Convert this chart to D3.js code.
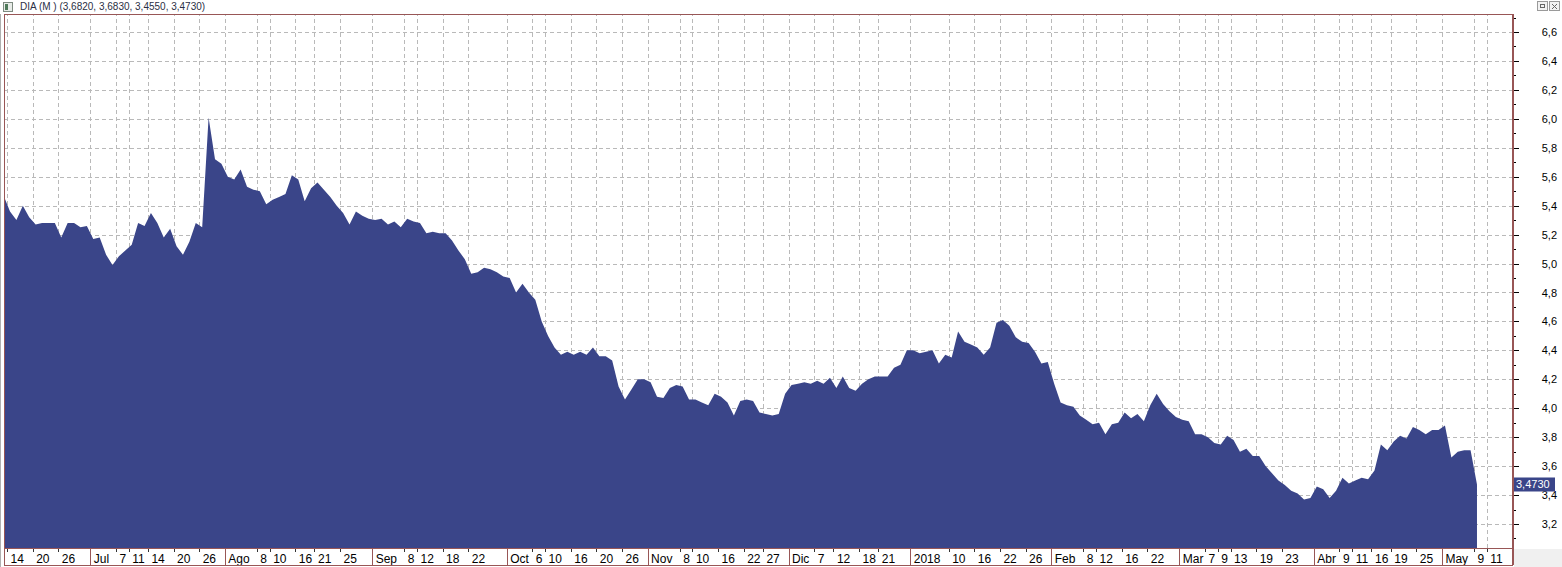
<!DOCTYPE html>
<html>
<head>
<meta charset="utf-8">
<script src="https://cdn.jsdelivr.net/npm/d3@7"></script>
<style>
  body { margin: 0; background: #fff; }
  svg { display: block; }
  text { font-family: "Liberation Sans", Arial, sans-serif; }
</style>
</head>
<body>
<svg width="1562" height="567"></svg>
<script>
// trading calendar (Madrid), last day shown in the window is May 17
const firstDay = new Date(2017, 5, 13);
const lastDay = new Date(2018, 4, 17);
const holidays = ['2017-12-25', '2017-12-26', '2018-01-01', '2018-03-30', '2018-04-02', '2018-05-01'];

// daily close, 13 Jun 2017 -> 9 May 2018
const closes = [
  5.47, 5.36, 5.30, 5.40, 5.32, 5.27, 5.28, 5.28, 5.28, 5.18, 5.28, 5.28, 5.25, 5.26,
  5.17, 5.18, 5.06, 4.99, 5.05, 5.09, 5.13, 5.28, 5.26, 5.35, 5.28, 5.18, 5.24, 5.12, 5.06, 5.15, 5.28, 5.25, 6.01, 5.72, 5.69,
  5.60, 5.58, 5.65, 5.53, 5.51, 5.50, 5.41, 5.44, 5.46, 5.48, 5.61, 5.58, 5.43, 5.52, 5.56, 5.51, 5.46, 5.40, 5.35, 5.27, 5.36, 5.33, 5.31,
  5.30, 5.31, 5.27, 5.29, 5.25, 5.31, 5.29, 5.28, 5.21, 5.22, 5.21, 5.21, 5.16, 5.09, 5.03, 4.93, 4.94, 4.97, 4.96, 4.94, 4.91,
  4.90, 4.80, 4.86, 4.80, 4.75, 4.60, 4.50, 4.42, 4.37, 4.39, 4.37, 4.39, 4.37, 4.42, 4.36, 4.36, 4.33, 4.15, 4.06, 4.13, 4.20, 4.20,
  4.18, 4.08, 4.07, 4.14, 4.16, 4.15, 4.06, 4.06, 4.04, 4.02, 4.10, 4.08, 4.04, 3.95, 4.05, 4.06, 4.05, 3.97, 3.96, 3.95, 3.96, 4.10,
  4.16, 4.17, 4.18, 4.17, 4.19, 4.17, 4.21, 4.14, 4.22, 4.14, 4.12, 4.17, 4.20, 4.22, 4.22, 4.22, 4.28, 4.30, 4.40,
  4.40, 4.38, 4.39, 4.40, 4.31, 4.37, 4.35, 4.53, 4.46, 4.44, 4.42, 4.37, 4.42, 4.59, 4.61, 4.57, 4.49, 4.46, 4.45, 4.39, 4.31, 4.32,
  4.17, 4.04, 4.02, 4.01, 3.95, 3.92, 3.89, 3.90, 3.82, 3.89, 3.90, 3.97, 3.93, 3.96, 3.91, 4.02, 4.10, 4.03, 3.98, 3.94,
  3.92, 3.91, 3.82, 3.82, 3.80, 3.76, 3.75, 3.81, 3.78, 3.70, 3.72, 3.67, 3.67, 3.60, 3.55, 3.50, 3.47, 3.43, 3.41, 3.37, 3.38,
  3.46, 3.44, 3.38, 3.43, 3.52, 3.48, 3.50, 3.52, 3.51, 3.57, 3.75, 3.71, 3.77, 3.81, 3.79, 3.87, 3.85, 3.82, 3.85, 3.85,
  3.88, 3.66, 3.70, 3.71, 3.71, 3.473
];

const tickDays = [
  '2017-06-14', '2017-06-20', '2017-06-26',
  '2017-07-03', '2017-07-07', '2017-07-11', '2017-07-14', '2017-07-20', '2017-07-26',
  '2017-08-01', '2017-08-08', '2017-08-10', '2017-08-16', '2017-08-21', '2017-08-25',
  '2017-09-01', '2017-09-08', '2017-09-12', '2017-09-18', '2017-09-22',
  '2017-10-02', '2017-10-06', '2017-10-10', '2017-10-16', '2017-10-20', '2017-10-26',
  '2017-11-01', '2017-11-08', '2017-11-10', '2017-11-16', '2017-11-22', '2017-11-27',
  '2017-12-01', '2017-12-07', '2017-12-12', '2017-12-18', '2017-12-21',
  '2018-01-02', '2018-01-10', '2018-01-16', '2018-01-22', '2018-01-26',
  '2018-02-01', '2018-02-08', '2018-02-12', '2018-02-16', '2018-02-22',
  '2018-03-01', '2018-03-07', '2018-03-09', '2018-03-13', '2018-03-19', '2018-03-23',
  '2018-04-03', '2018-04-09', '2018-04-11', '2018-04-16', '2018-04-19', '2018-04-25',
  '2018-05-02', '2018-05-09', '2018-05-11'
];
const tickLabels = [
  '14', '20', '26',
  'Jul', '7', '11', '14', '20', '26',
  'Ago', '8', '10', '16', '21', '25',
  'Sep', '8', '12', '18', '22',
  'Oct', '6', '10', '16', '20', '26',
  'Nov', '8', '10', '16', '22', '27',
  'Dic', '7', '12', '18', '21',
  '2018', '10', '16', '22', '26',
  'Feb', '8', '12', '16', '22',
  'Mar', '7', '9', '13', '19', '23',
  'Abr', '9', '11', '16', '19', '25',
  'May', '9', '11'
];
const monthLabels = ['Jul', 'Ago', 'Sep', 'Oct', 'Nov', 'Dic', '2018', 'Feb', 'Mar', 'Abr', 'May'];

const yLabelTicks = [3.2, 3.4, 3.6, 3.8, 4.0, 4.2, 4.4, 4.6, 4.8, 5.0, 5.2, 5.4, 5.6, 5.8, 6.0, 6.2, 6.4, 6.6];
const yMinorTicks = [3.1, 3.3, 3.5, 3.7, 3.9, 4.1, 4.3, 4.5, 4.7, 4.9, 5.1, 5.3, 5.5, 5.7, 5.9, 6.1, 6.3, 6.5, 6.7];

const titleText = 'DIA (M ) (3,6820, 3,6830, 3,4550, 3,4730)';

const fillColor = '#3a4589';
const frameColor = '#985656';

const plotL = 4, plotR = 1513, plotT = 14, plotB = 548, stripB = 565;

const fmtDay = d3.timeFormat('%Y-%m-%d');
const days = d3.timeDay.range(firstDay, d3.timeDay.offset(lastDay, 1))
  .filter(d => d.getDay() !== 0 && d.getDay() !== 6)
  .map(fmtDay)
  .filter(s => !holidays.includes(s));

const data = closes.map((v, i) => ({ day: days[i], v: v }));

const step = 6.406;
const x = d3.scalePoint()
  .domain(days)
  .range([3.6, 3.6 + step * (days.length - 1)]);
// tick marks sit a little to the left of the bar's point
const xTick = x.copy().range(x.range().map(r => r - 3));

const y = d3.scaleLinear()
  .domain([3.2, 6.6])
  .range([524, 32]);

const svg = d3.select('svg');

// title bar
svg.append('rect').attr('x', 0).attr('y', 0).attr('width', 1562).attr('height', plotT).attr('fill', '#fff');
svg.append('rect').attr('x', 3.5).attr('y', 2.5).attr('width', 9).attr('height', 9)
  .attr('fill', '#e8ece8').attr('stroke', '#7d8a80');
svg.append('rect').attr('x', 5).attr('y', 4).attr('width', 3).attr('height', 6).attr('fill', '#4f7a5a');
svg.append('text').attr('x', 20).attr('y', 10).attr('font-size', 10).attr('fill', '#2b2f45').text(titleText);

// little window buttons at the top right
[1537, 1549].forEach((bx, i) => {
  svg.append('rect').attr('x', bx + 0.5).attr('y', 1.5).attr('width', 10).attr('height', 9)
    .attr('fill', '#f2f2f2').attr('stroke', '#9a9a9a');
  if (i === 0) {
    svg.append('rect').attr('x', bx + 3.5).attr('y', 4.5).attr('width', 4).attr('height', 3)
      .attr('fill', 'none').attr('stroke', '#666');
  } else {
    svg.append('path').attr('d', `M${bx + 3},${4} L${bx + 8},${9} M${bx + 8},${4} L${bx + 3},${9}`)
      .attr('stroke', '#666');
  }
});

// bottom right grey corner
svg.append('rect').attr('x', plotR + 1).attr('y', plotB + 1).attr('width', 1562 - plotR).attr('height', 567 - plotB)
  .attr('fill', '#f0f0f0');

svg.append('clipPath').attr('id', 'plotclip')
  .append('rect').attr('x', plotL).attr('y', plotT).attr('width', plotR - plotL).attr('height', plotB - plotT);

const chart = svg.append('g');

// horizontal grid
chart.append('g')
  .attr('class', 'grid')
  .attr('transform', `translate(${plotR}, 0)`)
  .call(d3.axisRight(y)
    .tickValues(yLabelTicks)
    .tickSize(-(plotR - plotL))
    .tickFormat(''));

// vertical grid
chart.append('g')
  .attr('class', 'grid')
  .attr('transform', `translate(0, ${plotB})`)
  .call(d3.axisBottom(xTick)
    .tickValues(tickDays)
    .tickSize(-(plotB - plotT))
    .tickFormat(''));

chart.selectAll('.grid .domain').remove();
chart.selectAll('.grid line')
  .attr('stroke', '#b9b9b9')
  .attr('stroke-dasharray', '4,3')
  .attr('shape-rendering', 'crispEdges');

// price area
const area = d3.area()
  .x(d => x(d.day))
  .y0(plotB)
  .y1(d => y(d.v));

chart.append('path')
  .datum(data)
  .attr('clip-path', 'url(#plotclip)')
  .attr('fill', fillColor)
  .attr('d', area);

// date axis strip
const xAxisG = svg.append('g').attr('transform', `translate(0, ${plotB})`);
xAxisG.append('rect').attr('x', plotL).attr('y', 0.5).attr('width', plotR - plotL).attr('height', stripB - plotB)
  .attr('fill', '#fff');
xAxisG.call(d3.axisBottom(xTick)
  .tickValues(tickDays)
  .tickSize(4)
  .tickFormat((d, i) => tickLabels[i]));
xAxisG.select('.domain').remove();
xAxisG.selectAll('.tick line')
  .attr('stroke', '#333')
  .attr('y1', 1)
  .attr('y2', 4)
  .attr('shape-rendering', 'crispEdges');
xAxisG.selectAll('.tick text')
  .attr('text-anchor', 'start')
  .attr('x', 3)
  .attr('y', 15)
  .attr('dy', null)
  .attr('font-size', 12)
  .attr('font-family', '"Liberation Sans", Arial, sans-serif')
  .attr('fill', '#000');
xAxisG.selectAll('.tick')
  .filter((d, i) => monthLabels.includes(tickLabels[i]))
  .select('line')
  .attr('stroke', frameColor)
  .attr('y1', 0)
  .attr('y2', stripB - plotB);

// price axis on the right
const yAxisG = svg.append('g').attr('transform', `translate(${plotR}, 0)`);
yAxisG.call(d3.axisRight(y)
  .tickValues(yLabelTicks)
  .tickSize(6)
  .tickFormat(d => d3.format('.1f')(d).replace('.', ',')));
yAxisG.select('.domain').remove();
yAxisG.selectAll('.tick line').attr('stroke', '#000').attr('shape-rendering', 'crispEdges');
yAxisG.selectAll('.tick text')
  .attr('text-anchor', 'end')
  .attr('x', 44)
  .attr('font-size', 11)
  .attr('font-family', '"Liberation Sans", Arial, sans-serif')
  .attr('fill', '#000');

const yMinorG = svg.append('g').attr('transform', `translate(${plotR}, 0)`);
yMinorG.call(d3.axisRight(y).tickValues(yMinorTicks).tickSize(3).tickFormat(''));
yMinorG.select('.domain').remove();
yMinorG.selectAll('.tick line').attr('stroke', '#000').attr('shape-rendering', 'crispEdges');

// frame lines
const frame = svg.append('g').attr('stroke', frameColor).attr('shape-rendering', 'crispEdges');
frame.append('line').attr('x1', plotL).attr('x2', plotR).attr('y1', plotT + 0.5).attr('y2', plotT + 0.5);
frame.append('line').attr('x1', plotL + 0.5).attr('x2', plotL + 0.5).attr('y1', plotT).attr('y2', stripB);
frame.append('line').attr('x1', plotR).attr('x2', plotR).attr('y1', plotT).attr('y2', stripB)
  .attr('stroke-width', 2);
frame.append('line').attr('x1', plotL).attr('x2', plotR).attr('y1', plotB + 0.5).attr('y2', plotB + 0.5);
frame.append('line').attr('x1', plotL).attr('x2', plotR).attr('y1', stripB + 0.5).attr('y2', stripB + 0.5);
svg.append('line').attr('x1', 0.5).attr('x2', 0.5).attr('y1', plotT).attr('y2', 567)
  .attr('stroke', '#b0b0b0');

// last price tag
const lastV = closes[closes.length - 1];
const tag = svg.append('g').attr('transform', `translate(${plotR + 1}, ${y(lastV)})`);
tag.append('rect').attr('x', 0).attr('y', -7).attr('width', 41).attr('height', 14).attr('fill', fillColor);
tag.append('text').attr('x', 2).attr('y', 4).attr('font-size', 11).attr('fill', '#fff')
  .text(d3.format('.4f')(lastV).replace('.', ','));
</script>
</body>
</html>
